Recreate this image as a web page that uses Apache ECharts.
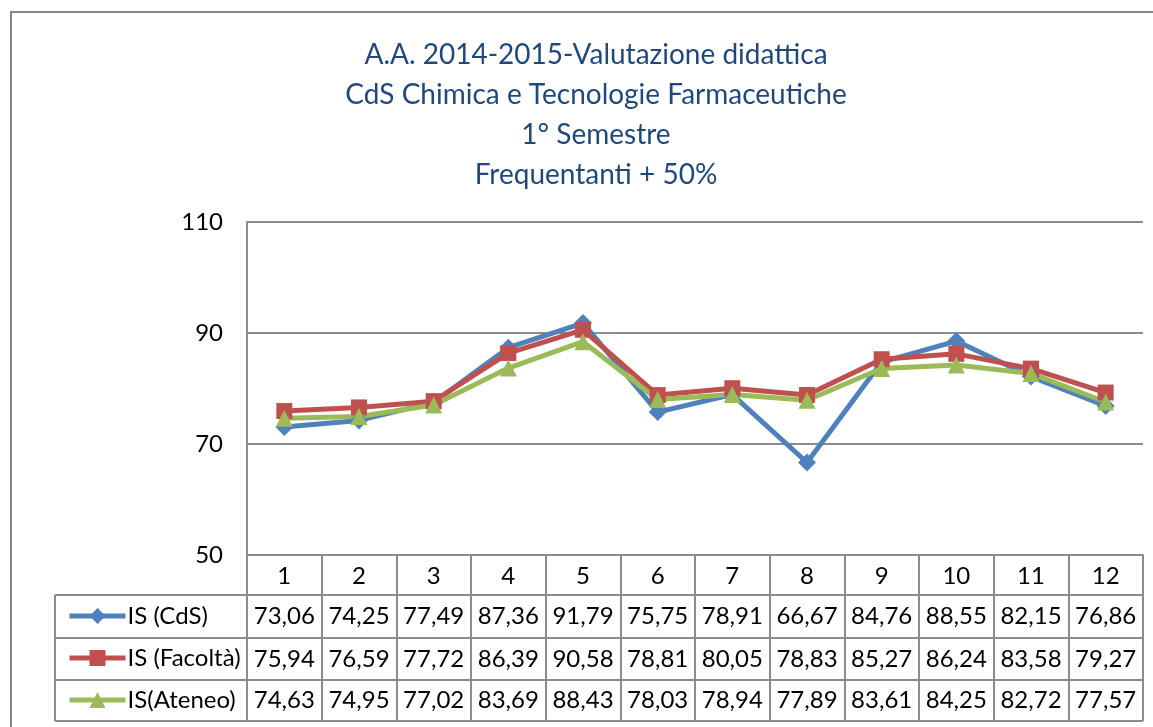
<!DOCTYPE html>
<html lang="it">
<head>
    <meta charset="UTF-8">
    <title>Valutazione didattica</title>
    <script src="https://cdn.jsdelivr.net/npm/echarts@6/dist/echarts.min.js"></script>
    <style>
        html, body { margin: 0; padding: 0; background: #ffffff; }
        #main { width: 1153px; height: 727px; }
    </style>
</head>
<body>
<div id="main"></div>
<script>
    // dati
    var categorie = ['1', '2', '3', '4', '5', '6', '7', '8', '9', '10', '11', '12'];
    var nomiSerie = ['IS (CdS)', 'IS (Facoltà)', 'IS(Ateneo)'];
    var isCdS = [73.06, 74.25, 77.49, 87.36, 91.79, 75.75, 78.91, 66.67, 84.76, 88.55, 82.15, 76.86];
    var isFacolta = [75.94, 76.59, 77.72, 86.39, 90.58, 78.81, 80.05, 78.83, 85.27, 86.24, 83.58, 79.27];
    var isAteneo = [74.63, 74.95, 77.02, 83.69, 88.43, 78.03, 78.94, 77.89, 83.61, 84.25, 82.72, 77.57];
    var tickY = [50, 70, 90, 110];

    var font = 'Lato, "Open Sans", sans-serif';
    var grigio = '#8c8c8c';

    // griglia del grafico e della tabella dati
    var gLeft = 247, gRight = 1143, gTop = 222, gBottom = 555;
    var tabLeft = 55;
    var righe = [595, 638, 680, 721];
    var cellW = (gRight - gLeft) / categorie.length;

    function fmt(v) {
        return v.toFixed(2).replace('.', ',');
    }

    var graphic = [];
    // cornice esterna
    graphic.push({
        type: 'rect', shape: {x: 11, y: 12, width: 1160, height: 730},
        style: {fill: null, stroke: '#868686', lineWidth: 2}, silent: true
    });
    // linee orizzontali della tabella
    for (var r = 0; r < righe.length; r++) {
        graphic.push({
            type: 'line', shape: {x1: tabLeft, y1: righe[r], x2: gRight, y2: righe[r]},
            style: {stroke: grigio, lineWidth: 2}, silent: true
        });
    }
    graphic.push({
        type: 'line', shape: {x1: tabLeft, y1: righe[0], x2: tabLeft, y2: righe[3]},
        style: {stroke: grigio, lineWidth: 2}, silent: true
    });
    graphic.push({
        type: 'line', shape: {x1: gRight, y1: gBottom, x2: gRight, y2: righe[3]},
        style: {stroke: grigio, lineWidth: 2}, silent: true
    });
    // valori nelle celle
    var tutti = [isCdS, isFacolta, isAteneo];
    for (var s = 0; s < tutti.length; s++) {
        var yc = (righe[s] + righe[s + 1]) / 2;
        for (var i = 0; i < tutti[s].length; i++) {
            graphic.push({
                type: 'text',
                x: gLeft + cellW * (i + 0.5), y: yc,
                style: {
                    text: fmt(tutti[s][i]), fill: '#000', font: '24px ' + font,
                    textAlign: 'center', textVerticalAlign: 'middle'
                },
                silent: true
            });
        }
    }

    var chart = echarts.init(document.getElementById('main'));
    var option = {
        animation: false,
        backgroundColor: '#ffffff',
        title: {
            text: 'A.A. 2014-2015-Valutazione didattica\nCdS Chimica e Tecnologie Farmaceutiche\n1° Semestre\nFrequentanti + 50%',
            left: 591, top: 30, textAlign: 'center',
            textStyle: {color: '#1f497d', fontFamily: font, fontSize: 28, fontWeight: 'normal', lineHeight: 40}
        },
        legend: {
            orient: 'vertical',
            left: 62, top: 598,
            itemWidth: 56, itemHeight: 20, itemGap: 16,
            lineStyle: {width: 5},
            textStyle: {color: '#000', fontFamily: font, fontSize: 24, lineHeight: 26, padding: [0, 0, 0, -3]},
            data: nomiSerie
        },
        grid: {left: gLeft, right: 1153 - gRight, top: gTop, bottom: 727 - gBottom},
        xAxis: {
            type: 'category',
            data: categorie,
            boundaryGap: true,
            axisLine: {lineStyle: {color: grigio, width: 2}},
            axisTick: {show: true, length: righe[3] - gBottom, lineStyle: {color: grigio, width: 2}},
            axisLabel: {color: '#000', fontFamily: font, fontSize: 24, margin: 9}
        },
        yAxis: {
            type: 'value',
            min: tickY[0], max: tickY[tickY.length - 1], interval: 20,
            axisLine: {show: true, lineStyle: {color: grigio, width: 2}},
            axisTick: {show: false},
            axisLabel: {color: '#000', fontFamily: font, fontSize: 24, margin: 24},
            splitLine: {lineStyle: {color: grigio, width: 2}}
        },
        graphic: graphic,
        series: [
            {
                name: nomiSerie[0], type: 'line', data: isCdS,
                symbol: 'diamond', symbolSize: 18,
                itemStyle: {color: '#4f81bd'}, lineStyle: {color: '#4f81bd', width: 5}
            },
            {
                name: nomiSerie[1], type: 'line', data: isFacolta,
                symbol: 'rect', symbolSize: 16,
                itemStyle: {color: '#c0504d'}, lineStyle: {color: '#c0504d', width: 5}
            },
            {
                name: nomiSerie[2], type: 'line', data: isAteneo,
                symbol: 'triangle', symbolSize: 17,
                itemStyle: {color: '#9bbb59'}, lineStyle: {color: '#9bbb59', width: 5}
            }
        ]
    };
    chart.setOption(option);
</script>
</body>
</html>
